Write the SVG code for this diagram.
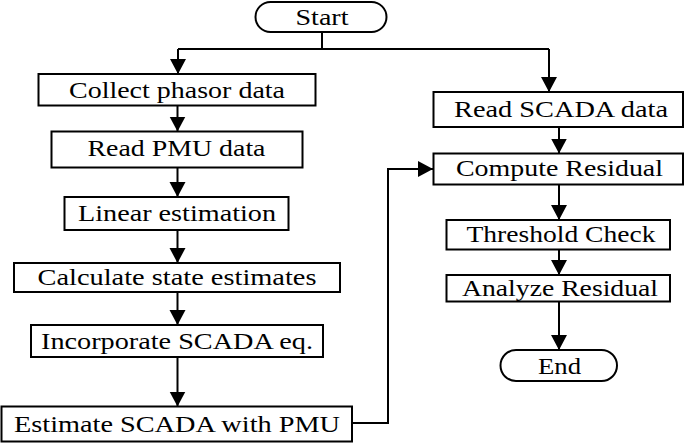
<svg xmlns="http://www.w3.org/2000/svg" width="685" height="443" viewBox="0 0 685 443">
  <defs>
    <marker id="ah" markerUnits="userSpaceOnUse" markerWidth="17" markerHeight="17" refX="15" refY="8" orient="auto">
      <path d="M0,0 L15,8 L0,16 Z" fill="#000"/>
    </marker>
  </defs>
  <style>
    .box { fill: #fff; stroke: #000; stroke-width: 2; }
    .lbl { font-family: "Liberation Serif", "Times New Roman", serif; font-size: 22.5px; fill: #000; text-anchor: middle; }
    .con { fill: none; stroke: #000; stroke-width: 2; }
    .arr { marker-end: url(#ah); }
  </style>
  <rect width="685" height="443" fill="#fff"/>

  <g id="connectors">
    <polyline class="con" points="322,32 322,49 178,49"/>
    <polyline class="con" points="322,49 549,49"/>
    <line class="con arr" x1="178" y1="49" x2="178" y2="74"/>
    <line class="con arr" x1="549" y1="49" x2="549" y2="92"/>
    <line class="con arr" x1="177.5" y1="105.5" x2="177.5" y2="131.5"/>
    <line class="con arr" x1="177.5" y1="167.5" x2="177.5" y2="197"/>
    <line class="con arr" x1="177.5" y1="230" x2="177.5" y2="263"/>
    <line class="con arr" x1="177.5" y1="292" x2="177.5" y2="325"/>
    <line class="con arr" x1="177.5" y1="357" x2="177.5" y2="406.5"/>
    <polyline class="con arr" points="352,423 388,423 388,169 433,169"/>
    <line class="con arr" x1="559" y1="127" x2="559" y2="153.5"/>
    <line class="con arr" x1="559" y1="184.5" x2="559" y2="220"/>
    <line class="con arr" x1="559" y1="249.5" x2="559" y2="275"/>
    <line class="con arr" x1="559" y1="301.5" x2="559" y2="350"/>
  </g>

  <g id="start">
    <rect class="box" x="255.5" y="2" width="131" height="30" rx="15" ry="15"/>
    <text class="lbl" x="322" y="24.5" textLength="53" lengthAdjust="spacingAndGlyphs">Start</text>
  </g>
  <g id="collect">
    <rect class="box" x="38.5" y="74" width="277" height="31.5"/>
    <text class="lbl" x="177" y="97.8" textLength="216" lengthAdjust="spacingAndGlyphs">Collect phasor data</text>
  </g>
  <g id="readpmu">
    <rect class="box" x="51.5" y="131.5" width="251" height="36"/>
    <text class="lbl" x="176.5" y="156" textLength="178" lengthAdjust="spacingAndGlyphs">Read PMU data</text>
  </g>
  <g id="linear">
    <rect class="box" x="64.5" y="197" width="224" height="33"/>
    <text class="lbl" x="177" y="220.5" textLength="198" lengthAdjust="spacingAndGlyphs">Linear estimation</text>
  </g>
  <g id="calc">
    <rect class="box" x="14" y="263" width="326" height="29"/>
    <text class="lbl" x="177" y="285" textLength="279" lengthAdjust="spacingAndGlyphs">Calculate state estimates</text>
  </g>
  <g id="incorporate">
    <rect class="box" x="31" y="325" width="292" height="32"/>
    <text class="lbl" x="177" y="348.8" textLength="272" lengthAdjust="spacingAndGlyphs">Incorporate SCADA eq.</text>
  </g>
  <g id="estimate">
    <rect class="box" x="1.5" y="406.5" width="350.5" height="35"/>
    <text class="lbl" x="177" y="431.5" textLength="326" lengthAdjust="spacingAndGlyphs">Estimate SCADA with PMU</text>
  </g>
  <g id="readscada">
    <rect class="box" x="433.5" y="92" width="249.5" height="35"/>
    <text class="lbl" x="561" y="117.2" textLength="214" lengthAdjust="spacingAndGlyphs">Read SCADA data</text>
  </g>
  <g id="compute">
    <rect class="box" x="433.5" y="153.5" width="249.5" height="31"/>
    <text class="lbl" x="559.5" y="176.2" textLength="207" lengthAdjust="spacingAndGlyphs">Compute Residual</text>
  </g>
  <g id="threshold">
    <rect class="box" x="446.5" y="220" width="223.5" height="29.5"/>
    <text class="lbl" x="561" y="242" textLength="189" lengthAdjust="spacingAndGlyphs">Threshold Check</text>
  </g>
  <g id="analyze">
    <rect class="box" x="446.5" y="275" width="223.5" height="26.5"/>
    <text class="lbl" x="560" y="296" textLength="196" lengthAdjust="spacingAndGlyphs">Analyze Residual</text>
  </g>
  <g id="end">
    <rect class="box" x="500.5" y="350" width="116.5" height="31" rx="15.5" ry="15.5"/>
    <text class="lbl" x="559.5" y="373.5" textLength="43" lengthAdjust="spacingAndGlyphs">End</text>
  </g>
</svg>
